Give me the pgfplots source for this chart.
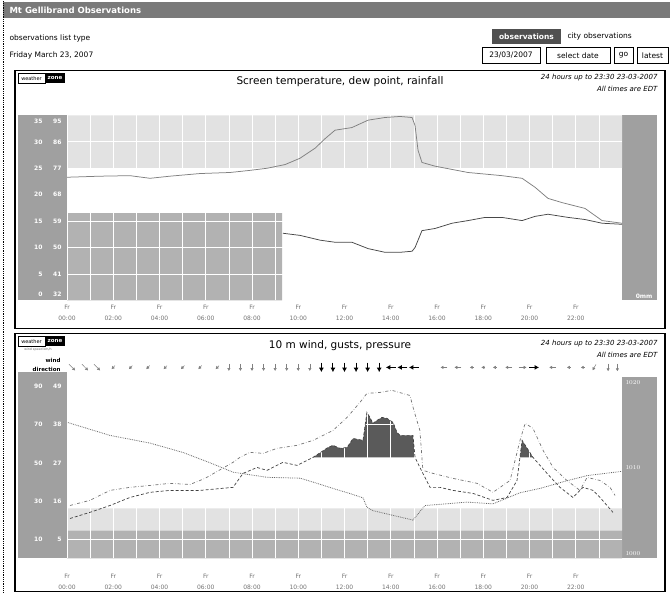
\documentclass[border=0pt]{standalone}
\usepackage{fontspec}
\setmainfont{DejaVu Sans}
\usepackage{pgfplots}
\pgfplotsset{compat=1.18}
\usetikzlibrary{arrows.meta}
\definecolor{band}{HTML}{A0A0A0}
\definecolor{lightband}{HTML}{E2E2E2}
\definecolor{boxgray}{HTML}{B2B2B2}
\definecolor{hdr}{HTML}{7A7A7A}
\definecolor{btn}{HTML}{505050}
\definecolor{windfill}{HTML}{5A5A5A}
\newcommand{\yl}[2]{\makebox[11pt][r]{#1}\makebox[19pt][r]{#2}}
\pgfplotsset{
  chartbase/.style={anchor=south west,scale only axis,width=555pt,xmin=0,xmax=24},
  timeticks/.style={
    axis line style={draw=none},major tick length=0pt,minor tick length=0pt,
    xtick={0,2,...,22},minor xtick={1,3,...,23},
    xticklabels={{Fr\\00:00},{Fr\\02:00},{Fr\\04:00},{Fr\\06:00},{Fr\\08:00},{Fr\\10:00},{Fr\\12:00},{Fr\\14:00},{Fr\\16:00},{Fr\\18:00},{Fr\\20:00},{Fr\\22:00}},
    yticklabel style={font=\bfseries\fontsize{6}{6}\selectfont,text=white,xshift=-2pt},
    xmajorgrids,xminorgrids,ymajorgrids,
    grid style={white,line width=0.7pt},minor grid style={white,line width=0.7pt}}
}
\begin{document}
\begin{tikzpicture}[x=1pt,y=1pt]
\path (0,0) rectangle (670,592);
% ---------- page header ----------
\fill[hdr] (3,574) rectangle (670,590);
\node[anchor=west,text=white,font=\bfseries\fontsize{8.5}{9}\selectfont] at (6,582) {Mt Gellibrand Observations};
\draw[densely dotted,line width=0.8pt] (3,0) -- (3,592);
\node[anchor=west,font=\fontsize{7.5}{8}\selectfont] at (6,554) {observations list type};
\node[anchor=west,font=\fontsize{7.5}{8}\selectfont] at (6,537) {Friday March 23, 2007};
\fill[btn] (492,548) rectangle (561,563);
\node[text=white,font=\bfseries\fontsize{7.5}{8}\selectfont] at (526.5,555.5) {observations};
\node[anchor=west,font=\fontsize{7.5}{8}\selectfont] at (564,555.5) {city observations};
\draw[line width=0.6pt] (482,529) rectangle (540,545);
\node[font=\fontsize{7.5}{8}\selectfont] at (511,537) {23/03/2007};
\draw[line width=0.6pt] (546,529) rectangle (610,545);
\node[font=\fontsize{7.5}{8}\selectfont] at (578,537) {select date};
\draw[line width=0.6pt] (614,529) rectangle (633,545);
\node[font=\fontsize{7.5}{8}\selectfont] at (623.5,537) {go};
\draw[line width=0.6pt] (637,529) rectangle (668,545);
\node[font=\fontsize{7.5}{8}\selectfont] at (652.5,537) {latest};
% ---------- top panel ----------
\draw[line width=1.1pt] (15,264) rectangle (665,522);
\draw[line width=0.4pt] (18,509) rectangle (45,519);
\node[font=\fontsize{5}{5}\selectfont] at (31.5,514) {weather};
\fill[black] (45,509) rectangle (65,519);
\node[text=white,font=\bfseries\fontsize{5.5}{5}\selectfont] at (55,514) {zone};
\node[font=\fontsize{10.5}{11}\selectfont] at (340,511) {Screen temperature, dew point, rainfall};
\node[anchor=east,font=\itshape\fontsize{7}{7}\selectfont] at (661,515) {24 hours up to 23:30 23-03-2007};
\node[anchor=east,font=\itshape\fontsize{7}{7}\selectfont] at (661,504) {All times are EDT};
\fill[band] (18,292) rectangle (67,477);
\fill[band] (622,292) rectangle (657,477);
\node[anchor=east,text=white,font=\bfseries\fontsize{6}{6}\selectfont] at (656,296) {0mm};
% background areas
\begin{axis}[chartbase,at={(67pt,292pt)},height=185pt,ymin=0,ymax=35,hide axis]
\addplot[fill=lightband,draw=none] coordinates {(0,25) (24,25) (24,35) (0,35) (0,25)};
\addplot[fill=boxgray,draw=none] coordinates {(0,0) (9.30,0) (9.30,16.5) (0,16.5) (0,0)};
\end{axis}
\begin{axis}[chartbase,timeticks,at={(67pt,292pt)},height=185pt,ymin=0,ymax=35,
  xticklabel style={align=center,font=\fontsize{6}{11}\selectfont,text=black!55,yshift=-1pt},
  ytick={5,10,...,30},
  yticklabels={\yl{5}{41},\yl{10}{50},\yl{15}{59},\yl{20}{68},\yl{25}{77},\yl{30}{86}},
  extra y ticks={1.1,33.9},
  extra y tick labels={\yl{0}{32},\yl{35}{95}},
  extra y tick style={grid=none}]
% temperature
\addplot[black!50,line width=0.75pt] coordinates {
(0,23.3) (1.43,23.5) (2.72,23.6) (3.59,23.1) (4.45,23.5) (5.75,24.0) (7.05,24.2) (7.91,24.6)
(8.65,25.0) (9.43,25.7) (10.08,26.9) (10.73,28.8) (11.16,30.6) (11.59,32.2) (12.32,32.7)
(13.02,34.1) (13.75,34.6) (14.40,34.8) (14.92,34.6) (15.05,33.1) (15.18,28.4) (15.35,26.1)
(15.91,25.4) (17.34,24.2) (18.81,23.6) (19.68,23.1) (20.24,21.4) (20.80,19.3) (21.41,18.5)
(22.40,17.4) (23.14,15.1) (24,14.6)};
% dew point
\addplot[black!72,line width=0.75pt] coordinates {
(9.34,12.7) (10.08,12.3) (10.94,11.4) (11.59,11.0) (12.32,11.0) (13.02,9.8) (13.75,9.1)
(14.40,9.1) (14.92,9.3) (15.05,10.0) (15.35,13.2) (15.91,13.6) (16.65,14.6) (17.34,15.1)
(18.08,15.7) (18.81,15.7) (19.68,15.1) (20.24,15.9) (20.80,16.3) (21.67,15.7) (22.40,15.3)
(23.14,14.6) (24,14.4)};
\end{axis}
% ---------- bottom panel ----------
\draw[line width=1.1pt] (15,1) rectangle (665,259);
\draw[line width=0.4pt] (18,246) rectangle (45,256);
\node[font=\fontsize{5}{5}\selectfont] at (31.5,251) {weather};
\fill[black] (45,246) rectangle (65,256);
\node[text=white,font=\bfseries\fontsize{5.5}{5}\selectfont] at (55,251) {zone};
\node[text=black!60,font=\fontsize{3.2}{3}\selectfont] at (38,242.5) {wind speed km/h};
\node[font=\fontsize{10.5}{11}\selectfont] at (340,247) {10 m wind, gusts, pressure};
\node[anchor=east,font=\itshape\fontsize{7}{7}\selectfont] at (661,249) {24 hours up to 23:30 23-03-2007};
\node[anchor=east,font=\itshape\fontsize{7}{7}\selectfont] at (661,238) {All times are EDT};
\node[anchor=east,font=\bfseries\fontsize{5.5}{5}\selectfont] at (64,232) {wind};
\node[anchor=east,font=\bfseries\fontsize{5.5}{5}\selectfont] at (64,223) {direction};
\fill[band] (18,34) rectangle (67,220);
\fill[band] (622,34) rectangle (657,215);
% background areas and wind above threshold
\begin{axis}[chartbase,at={(67pt,34pt)},height=191pt,ymin=0,ymax=100,hide axis]
\addplot[fill=boxgray,draw=none] coordinates {(0,0) (24,0) (24,14.7) (0,14.7) (0,0)};
\addplot[fill=lightband,draw=none] coordinates {(0,14.7) (24,14.7) (24,26.2) (0,26.2) (0,14.7)};
\addplot[fill=windfill,draw=none] coordinates {
(10.64,52.9) (11.29,58.1) (11.50,59.2) (11.81,57.6) (12.11,58.1) (12.37,62.8) (12.80,61.8)
(12.97,76.4) (13.10,73.8) (13.23,70.7) (13.41,72.3) (13.62,73.8) (13.84,73.3) (14.10,71.2)
(14.27,66.0) (14.40,64.4) (14.96,64.4) (15.05,52.9) (10.64,52.9)};
\addplot[fill=windfill,draw=none] coordinates {
(19.59,52.9) (19.68,61.8) (20.15,52.9) (19.59,52.9)};
\end{axis}
\begin{axis}[chartbase,timeticks,at={(67pt,34pt)},height=191pt,ymin=0,ymax=100,
  xticklabel style={align=center,font=\fontsize{6}{11}\selectfont,text=black!55,yshift=-12pt},
  ytick={10,30,...,90},
  yticklabels={\yl{10}{5},\yl{30}{16},\yl{50}{27},\yl{70}{38},\yl{90}{49}}]
% wind speed
\addplot[black!75,densely dashed,line width=0.7pt] coordinates {
(0.13,20.9) (0.99,24.1) (1.86,27.7) (2.72,31.9) (3.59,34.6) (4.45,35.6) (5.75,35.6) (7.18,37.2)
(7.61,44.5) (8.22,47.6) (8.65,46.1) (9.34,50.3) (9.95,48.7) (10.64,52.9) (11.29,58.1)
(11.50,59.2) (11.81,57.6) (12.11,58.1) (12.37,62.8) (12.80,61.8) (12.97,76.4) (13.10,73.8)
(13.23,70.7) (13.41,72.3) (13.62,73.8) (13.84,73.3) (14.10,71.2) (14.27,66.0) (14.40,64.4)
(14.96,64.4) (15.05,52.9) (15.26,47.6) (15.70,37.2) (16.13,37.2) (16.69,35.6) (17.56,34.0)
(18.42,30.4) (19.03,31.9) (19.46,40.8) (19.68,61.8) (20.15,52.9) (20.76,44.5) (21.32,37.2)
(21.88,31.9) (22.31,37.2) (22.75,35.6) (23.05,31.9) (23.61,24.1)};
% gusts
\addplot[black!55,dash dot,line width=0.7pt] coordinates {
(0.13,27.7) (0.99,30.4) (1.86,35.6) (2.72,37.2) (3.59,38.2) (4.45,39.3) (5.32,38.7) (5.97,41.9)
(7.18,50.3) (7.48,52.9) (7.91,55.5) (8.48,55.0) (9.08,57.6) (9.95,59.2) (10.64,61.8)
(11.50,67.0) (12.11,73.8) (12.67,81.7) (12.97,86.4) (13.54,86.9) (14.05,88.0) (14.83,85.3)
(15.00,77.5) (15.26,67.0) (15.39,46.1) (15.83,44.5) (16.69,41.9) (17.73,39.3) (18.42,34.6)
(19.16,40.8) (19.59,61.8) (19.81,70.7) (20.15,68.1) (20.59,56.5) (21.02,47.6) (21.62,40.8)
(22.18,35.6) (22.49,42.4) (23.05,40.8) (23.48,37.2) (23.70,33.0)};
\end{axis}
% pressure axis
\begin{axis}[chartbase,at={(67pt,34pt)},height=191pt,ymin=999.42,ymax=1021.75,
  axis x line=none,axis y line*=right,axis line style={draw=none},major tick length=0pt,
  ytick={1000,1010,1020},
  yticklabel style={font=\bfseries\fontsize{6.5}{6}\selectfont,text=white,/pgf/number format/1000 sep={}}]
\addplot[black!60,densely dotted,line width=0.8pt] coordinates {
(0.04,1015.3) (1.86,1013.8) (3.59,1012.9) (5.02,1011.8) (6.18,1010.6) (7.18,1009.5)
(8.65,1008.9) (10.08,1008.8) (10.81,1008.2) (11.50,1007.6) (12.24,1007.0) (12.80,1006.5)
(12.97,1005.4) (13.23,1005.0) (14.96,1003.9) (15.48,1005.6) (17.30,1006.0) (18.42,1005.8)
(19.59,1007.1) (20.45,1007.6) (21.62,1008.5) (22.49,1009.1) (24,1009.6)};
\end{axis}
% wind direction row
\begin{axis}[chartbase,at={(67pt,219pt)},height=12pt,ymin=-1,ymax=1,hide axis,clip=false]
\addplot[black!50,line width=0.5pt,-{Latex[length=3pt,width=3.5pt]},
  quiver={u=\thisrow{u},v=\thisrow{v}}] table[x=x,y=y] {
x y u v
0.085 0.525 0.27 -1.05
0.645 0.525 0.27 -1.05
1.165 0.525 0.27 -1.05
2.075 0.3 -0.15 -0.6
2.825 0.3 -0.15 -0.6
3.575 0.3 -0.15 -0.6
4.325 0.3 -0.15 -0.6
5.075 0.3 -0.15 -0.6
5.825 0.3 -0.15 -0.6
6.575 0.3 -0.15 -0.6
7.0 0.6 0 -1.2
7.5 0.6 0 -1.2
8.0 0.6 0 -1.2
8.5 0.6 0 -1.2
9.0 0.6 0 -1.2
9.5 0.6 0 -1.2
10.0 0.6 0 -1.2
10.5 0.6 0 -1.2
16.45 0 -0.3 0
17.05 0 -0.3 0
17.585 0 -0.17 0
18.085 0 -0.17 0
18.585 0 -0.17 0
19.25 0 -0.3 0
19.525 0 0.35 0
21.15 0 -0.3 0
21.785 0 -0.17 0
22.385 0 -0.17 0
22.875 0.5 -0.15 -1.0
23.4 0.65 0 -1.3
23.8 0.65 0 -1.3
};
\addplot[black,line width=1.1pt,-{Latex[length=4.5pt,width=5pt]},
  quiver={u=\thisrow{u},v=\thisrow{v}}] table[x=x,y=y] {
x y u v
11.0 0.8 0 -1.6
11.5 0.8 0 -1.6
12.0 0.8 0 -1.6
12.5 0.8 0 -1.6
13.0 0.8 0 -1.6
13.5 0.8 0 -1.6
14.215 0 -0.43 0
14.715 0 -0.43 0
15.215 0 -0.43 0
19.985 0 0.43 0
};
\end{axis}
\end{tikzpicture}
\end{document}
